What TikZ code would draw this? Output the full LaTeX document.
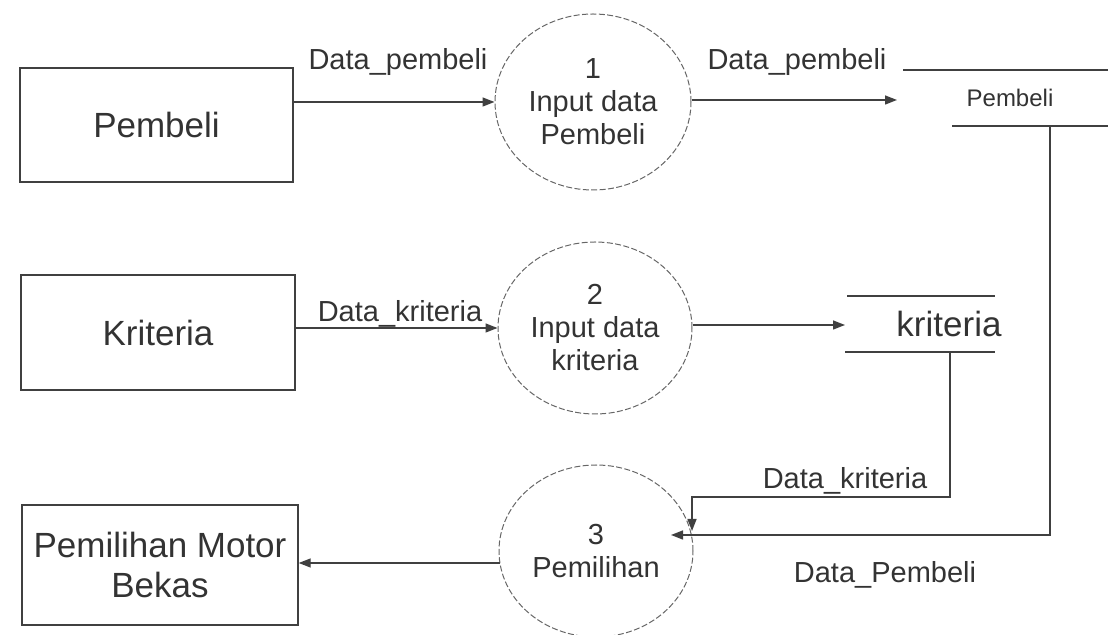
\documentclass[tikz,border=0pt]{standalone}
\usepackage{fontspec}
\setmainfont{Liberation Sans}
\usetikzlibrary{arrows.meta,shapes.geometric,calc}
\begin{document}
\begin{tikzpicture}[x=0.5pt,y=-0.5pt,
  ink/.style={draw=black!75, line width=0.7pt},
  entity/.style={ink, rectangle, inner sep=0pt, align=center, text=black!80,
    font=\fontsize{17.5}{20}\selectfont},
  process/.style={ellipse, draw=black!60, line width=0.5pt,
    dash pattern=on 3pt off 1.2pt, inner sep=0pt, align=center, text=black!80,
    font=\fontsize{14.5}{16.5}\selectfont},
  flowlabel/.style={text=black!80, inner sep=0pt,
    font=\fontsize{14.5}{16.5}\selectfont},
  storetext/.style={text=black!80, inner sep=0pt},
  flow/.style={ink, -{Triangle[length=6pt,width=4.5pt]}},
]
\useasboundingbox (0,0) rectangle (1110,635);

% external entities
\node[entity, minimum width=136.5pt, minimum height=57pt] (pembeli) at (156.5,125) {Pembeli};
\node[entity, minimum width=137pt, minimum height=57.5pt] (kriteria) at (158,332.5) {Kriteria};
\node[entity, minimum width=138pt, minimum height=60pt] (pilih) at (160,565) {Pemilihan Motor\\Bekas};

% processes
\node[process, minimum width=98pt, minimum height=88pt] (p1) at (593,102) {1\\Input data\\Pembeli};
\node[process, minimum width=97pt, minimum height=86pt] (p2) at (595,328) {2\\Input data\\kriteria};
\node[process, minimum width=97pt, minimum height=86pt] (p3) at (596,551) {3\\Pemilihan};

% data store: Pembeli
\node[storetext, font=\fontsize{12}{14}\selectfont] (dsPembeli) at (1010,98) {Pembeli};
\coordinate (dsPtl) at (903,70);
\coordinate (dsPtr) at (1108,70);
\coordinate (dsPbl) at (952,126);
\coordinate (dsPbr) at (1108,126);
\draw[ink] (dsPtl) -- (dsPtr);
\draw[ink] (dsPbl) -- (dsPbr);
\coordinate (dsPin) at (897,100);
\coordinate (dsPout) at (1050,126);

% data store: kriteria
\node[storetext, font=\fontsize{17.5}{20}\selectfont] (dsKriteria) at (949,324) {kriteria};
\coordinate (dsKtl) at (847,296);
\coordinate (dsKtr) at (995,296);
\coordinate (dsKbl) at (845,352);
\coordinate (dsKbr) at (995,352);
\draw[ink] (dsKtl) -- (dsKtr);
\draw[ink] (dsKbl) -- (dsKbr);
\coordinate (dsKin) at (845,325);
\coordinate (dsKout) at (950,352);

% connection points on process 3
\coordinate (kBend) at (692,497);
\coordinate (p3kin) at (692,531);
\coordinate (p3pin) at (671,535);
\coordinate (p3out) at (500,563);

% data flows
\draw[flow] (pembeli.east |- p1.west) -- (p1.west);
\draw[flow] (p1.east |- dsPin) -- (dsPin);
\draw[flow] (kriteria.east |- p2.west) -- (p2.west);
\draw[flow] (p2.east |- dsKin) -- (dsKin);
\draw[flow] (dsKout) |- (kBend) -- (p3kin);
\draw[flow] (dsPout) |- (p3pin);
\draw[flow] (p3out) -- (pilih.east |- p3out);

% flow labels
\node[flowlabel] (l1) at (398,62) {Data\_pembeli};
\node[flowlabel] (l2) at (797,62) {Data\_pembeli};
\node[flowlabel] (l3) at (400,314) {Data\_kriteria};
\node[flowlabel] (l4) at (845,481) {Data\_kriteria};
\node[flowlabel] (l5) at (885,575) {Data\_Pembeli};
\end{tikzpicture}
\end{document}
